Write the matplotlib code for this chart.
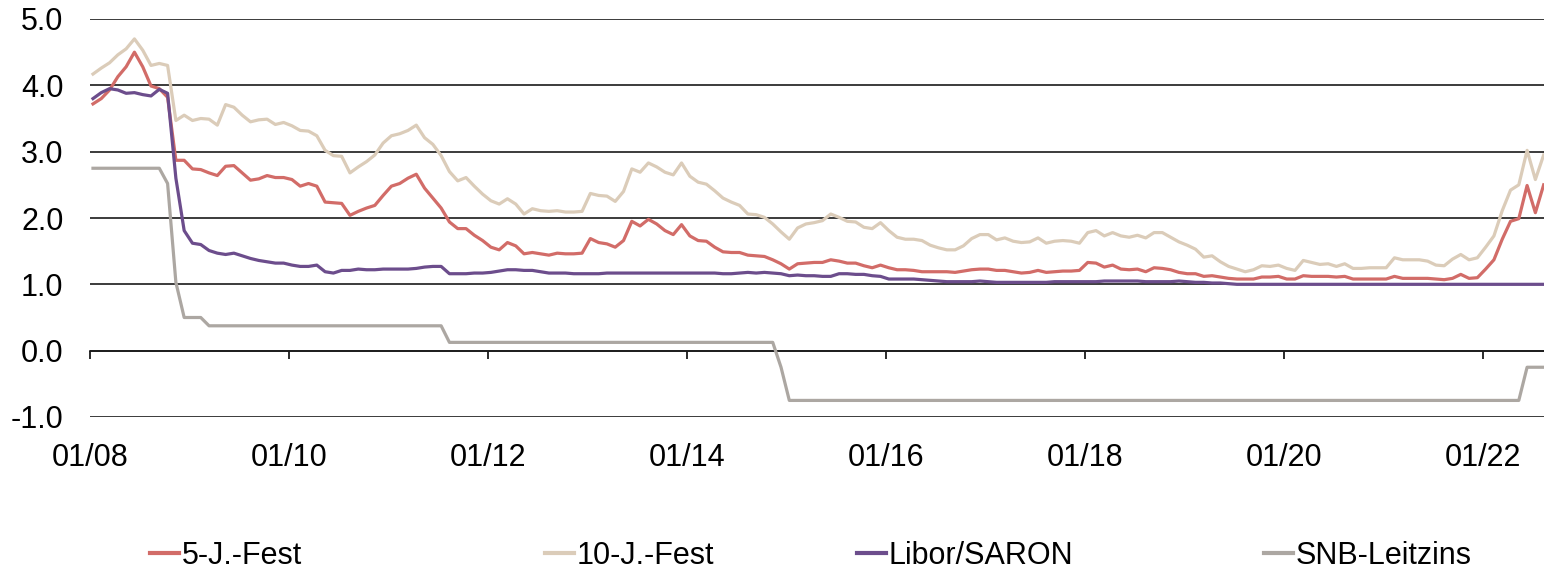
import matplotlib
matplotlib.use("Agg")
import matplotlib.pyplot as plt
import numpy as np

plt.rcParams['font.family'] = ['Liberation Sans', 'DejaVu Sans']

# ---------------- data (monthly, Jan 2008 - Aug 2022) ----------------
five_year = [
    3.72, 3.80, 3.93, 4.13, 4.28, 4.50, 4.28, 3.99, 3.95, 3.82,
    2.87, 2.87, 2.74, 2.73, 2.68, 2.64, 2.78, 2.79, 2.68, 2.57,
    2.59, 2.64, 2.61, 2.61, 2.58, 2.48, 2.52, 2.48, 2.24, 2.23,
    2.22, 2.04, 2.10, 2.15, 2.19, 2.34, 2.48, 2.52, 2.60, 2.66,
    2.45, 2.30, 2.15, 1.94, 1.84, 1.84, 1.74, 1.66, 1.56, 1.52,
    1.63, 1.58, 1.46, 1.48, 1.46, 1.44, 1.47, 1.46, 1.46, 1.47,
    1.69, 1.63, 1.61, 1.56, 1.66, 1.95, 1.88, 1.98, 1.91, 1.81,
    1.75, 1.90, 1.73, 1.66, 1.65, 1.56, 1.49, 1.48, 1.48, 1.44,
    1.43, 1.42, 1.37, 1.31, 1.23, 1.31, 1.32, 1.33, 1.33, 1.37,
    1.35, 1.32, 1.32, 1.28, 1.25, 1.29, 1.25, 1.22, 1.22, 1.21,
    1.19, 1.19, 1.19, 1.19, 1.18, 1.20, 1.22, 1.23, 1.23, 1.21,
    1.21, 1.19, 1.17, 1.18, 1.21, 1.18, 1.19, 1.20, 1.20, 1.21,
    1.33, 1.32, 1.26, 1.29, 1.23, 1.22, 1.23, 1.19, 1.25, 1.24,
    1.22, 1.18, 1.16, 1.16, 1.12, 1.13, 1.11, 1.09, 1.08, 1.08,
    1.08, 1.11, 1.11, 1.12, 1.08, 1.08, 1.13, 1.12, 1.12, 1.12,
    1.11, 1.12, 1.08, 1.08, 1.08, 1.08, 1.08, 1.12, 1.09, 1.09,
    1.09, 1.09, 1.08, 1.07, 1.09, 1.15, 1.09, 1.10, 1.23, 1.37,
    1.68, 1.95, 1.99, 2.49, 2.08, 2.50,
]

ten_year = [
    4.17, 4.26, 4.34, 4.46, 4.55, 4.70, 4.53, 4.30, 4.33, 4.30,
    3.47, 3.55, 3.47, 3.50, 3.49, 3.40, 3.71, 3.67, 3.55, 3.45,
    3.48, 3.49, 3.41, 3.44, 3.39, 3.32, 3.31, 3.24, 3.02, 2.94,
    2.93, 2.68, 2.77, 2.85, 2.95, 3.13, 3.24, 3.27, 3.32, 3.40,
    3.21, 3.11, 2.94, 2.70, 2.56, 2.61, 2.48, 2.36, 2.26, 2.21,
    2.29, 2.21, 2.06, 2.14, 2.11, 2.10, 2.11, 2.09, 2.09, 2.10,
    2.37, 2.34, 2.33, 2.25, 2.40, 2.74, 2.69, 2.83, 2.77, 2.69,
    2.65, 2.83, 2.63, 2.54, 2.51, 2.41, 2.30, 2.24, 2.19, 2.06,
    2.05, 2.01, 1.91, 1.79, 1.68, 1.85, 1.91, 1.93, 1.96, 2.06,
    2.01, 1.95, 1.94, 1.86, 1.84, 1.93, 1.81, 1.71, 1.68, 1.68,
    1.66, 1.59, 1.55, 1.52, 1.52, 1.58, 1.69, 1.75, 1.75, 1.67,
    1.70, 1.65, 1.63, 1.64, 1.70, 1.62, 1.65, 1.66, 1.65, 1.62,
    1.78, 1.81, 1.73, 1.78, 1.73, 1.71, 1.74, 1.70, 1.78, 1.78,
    1.71, 1.64, 1.59, 1.53, 1.41, 1.43, 1.34, 1.27, 1.23, 1.19,
    1.22, 1.28, 1.27, 1.29, 1.24, 1.21, 1.36, 1.33, 1.30, 1.31,
    1.27, 1.31, 1.24, 1.24, 1.25, 1.25, 1.25, 1.40, 1.37, 1.37,
    1.37, 1.35, 1.29, 1.28, 1.38, 1.45, 1.37, 1.40, 1.56, 1.73,
    2.11, 2.42, 2.50, 3.02, 2.58, 2.95,
]

libor_saron = [
    3.80, 3.89, 3.95, 3.93, 3.88, 3.89, 3.86, 3.84, 3.94, 3.88,
    2.60, 1.81, 1.62, 1.60, 1.51, 1.47, 1.45, 1.47, 1.43, 1.39,
    1.36, 1.34, 1.32, 1.32, 1.29, 1.27, 1.27, 1.29, 1.19, 1.17,
    1.21, 1.21, 1.23, 1.22, 1.22, 1.23, 1.23, 1.23, 1.23, 1.24,
    1.26, 1.27, 1.27, 1.16, 1.16, 1.16, 1.17, 1.17, 1.18, 1.20,
    1.22, 1.22, 1.21, 1.21, 1.19, 1.17, 1.17, 1.17, 1.16, 1.16,
    1.16, 1.16, 1.17, 1.17, 1.17, 1.17, 1.17, 1.17, 1.17, 1.17,
    1.17, 1.17, 1.17, 1.17, 1.17, 1.17, 1.16, 1.16, 1.17, 1.18,
    1.17, 1.18, 1.17, 1.16, 1.13, 1.14, 1.13, 1.13, 1.12, 1.12,
    1.16, 1.16, 1.15, 1.15, 1.13, 1.12, 1.08, 1.08, 1.08, 1.08,
    1.07, 1.06, 1.05, 1.04, 1.04, 1.04, 1.04, 1.05, 1.04, 1.03,
    1.03, 1.03, 1.03, 1.03, 1.03, 1.03, 1.04, 1.04, 1.04, 1.04,
    1.04, 1.04, 1.05, 1.05, 1.05, 1.05, 1.05, 1.04, 1.04, 1.04,
    1.04, 1.05, 1.04, 1.03, 1.03, 1.02, 1.02, 1.01, 1.00, 1.00,
    1.00, 1.00, 1.00, 1.00, 1.00, 1.00, 1.00, 1.00, 1.00, 1.00,
    1.00, 1.00, 1.00, 1.00, 1.00, 1.00, 1.00, 1.00, 1.00, 1.00,
    1.00, 1.00, 1.00, 1.00, 1.00, 1.00, 1.00, 1.00, 1.00, 1.00,
    1.00, 1.00, 1.00, 1.00, 1.00, 1.00,
]

snb_rate = (
    [2.75] * 9 + [2.52, 1.03] + [0.50] * 3 + [0.375] * 29 + [0.125] * 40
    + [-0.25] + [-0.75] * 89 + [-0.25] * 3
)

series_names = ['5-J.-Fest', '10-J.-Fest', 'Libor/SARON', 'SNB-Leitzins']
series_colors = ['#D26C68', '#DBCCB9', '#6C4D8C', '#ACA7A2']
tick_months = [0, 24, 48, 72, 96, 120, 144, 168]
tick_labels = ['01/08', '01/10', '01/12', '01/14', '01/16', '01/18', '01/20', '01/22']
y_ticks = [-1, 0, 1, 2, 3, 4, 5]

# ---------------- figure ----------------
fig = plt.figure(figsize=(15.44, 5.74), dpi=100)
ax = fig.add_axes([90 / 1544, 1 - 417 / 574, 1 - 90 / 1544, (417 - 19) / 574])

months = np.arange(len(five_year)) + 0.36
all_series = [five_year, ten_year, libor_saron, snb_rate]
lines = []
for vals, name, col in zip(all_series, series_names, series_colors):
    ln, = ax.plot(months, vals, color=col, lw=2.3, label=name,
                  solid_joinstyle='round', zorder=3)
    lines.append(ln)

ax.set_xlim(0, 175.4)
ax.set_ylim(-1, 5)
ax.set_yticks(y_ticks)
ax.set_yticklabels([f'{v:.1f}' for v in y_ticks])
ax.yaxis.grid(True, color='#1a1a1a', lw=1.2, zorder=1)
ax.set_axisbelow(True)
for s in ax.spines.values():
    s.set_visible(False)
ax.tick_params(axis='y', length=0, pad=19, labelsize=22)
ax.set_xticks(tick_months)
ax.set_xticklabels(tick_labels)
ax.tick_params(axis='x', length=0, pad=19, labelsize=22)

# x axis line at zero with downward ticks
sec = ax.secondary_xaxis(0, transform=ax.transData)
sec.set_xticks(tick_months)
sec.tick_params(axis='x', direction='out', length=5.5, width=1.3,
                labelbottom=False, color='#1a1a1a')
sec.spines['bottom'].set_color('#1a1a1a')
sec.spines['bottom'].set_linewidth(1.2)

# legend entries placed along the bottom
legend_x = [150, 545, 857, 1264]
for ln, lx in zip(lines, legend_x):
    lg = fig.legend(handles=[ln], loc='center left',
                    bbox_to_anchor=(lx / 1544, 1 - 556 / 574),
                    frameon=False, fontsize=22, handlelength=0.95,
                    handletextpad=0.08, borderpad=0, borderaxespad=0)
    for h in lg.legend_handles:
        h.set_linewidth(3)

fig.savefig('out.png', dpi=100)
